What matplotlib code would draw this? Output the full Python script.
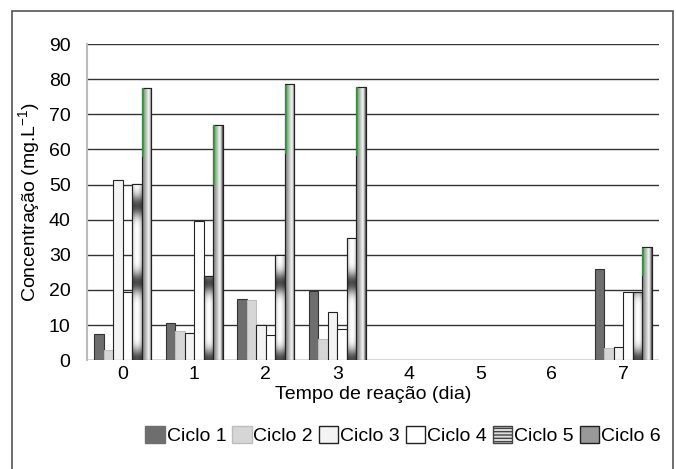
import numpy as np
import matplotlib.pyplot as plt
from matplotlib.patches import Patch, Rectangle

plt.rcParams['font.family'] = ['Liberation Sans', 'DejaVu Sans']

# data (days 4-6 have no bars)
dias = ['0', '1', '2', '3', '4', '5', '6', '7']
ciclo1 = [7.5, 10.7, 17.5, 19.6, np.nan, np.nan, np.nan, 26.1]
ciclo2 = [2.8, 8.3, 17.2, 5.9, np.nan, np.nan, np.nan, 3.5]
ciclo3 = [51.3, 7.8, 10.0, 13.6, np.nan, np.nan, np.nan, 3.7]
ciclo4 = [19.5, 39.5, 7.3, 9.0, np.nan, np.nan, np.nan, 19.3]
ciclo5 = [50.2, 24.0, 30.0, 34.9, np.nan, np.nan, np.nan, 19.3]
ciclo6 = [77.5, 67.0, 78.5, 77.8, np.nan, np.nan, np.nan, 32.2]
series = [ciclo1, ciclo2, ciclo3, ciclo4, ciclo5, ciclo6]
nomes = ['Ciclo 1', 'Ciclo 2', 'Ciclo 3', 'Ciclo 4', 'Ciclo 5', 'Ciclo 6']

fig = plt.figure(figsize=(6.76, 4.69), dpi=100)
ax = fig.add_axes([0.129, 0.232, 0.846, 0.674])

# outer frame
fig.patches.append(Rectangle((0.018, -0.05), 0.978, 1.026, transform=fig.transFigure,
                             fill=False, edgecolor='#555555', linewidth=1.2))

x = np.arange(len(dias))
w = 0.133
styles = [
    dict(color='#6e6e6e', edgecolor='#333333'),
    dict(color='#d6d6d6', edgecolor='#bdbdbd'),
    dict(color='#f3f3f3', edgecolor='#222222'),
    dict(color='#ffffff', edgecolor='#222222'),
    dict(color='#bbbbbb', edgecolor='#222222'),
    dict(color='#999999', edgecolor='#222222'),
]

ax.set_xlim(-0.5, 7.5)
ax.set_ylim(0, 90)

# gradient images used for Ciclo 5 and Ciclo 6
xs = np.linspace(0, 1, 40)
cyl = 0.55 + 0.45 * np.sin(np.pi * xs)
prof6 = np.interp(xs, [0, 0.15, 0.7, 0.85, 1.0], [0.45, 0.55, 0.97, 0.7, 0.25])
grad6 = np.outer(np.ones(60), prof6)

bars_all = []
for i, (vals, st) in enumerate(zip(series, styles)):
    off = (i - 2.5) * w
    b = ax.bar(x + off, vals, w, color=st['color'], edgecolor=st['edgecolor'],
               linewidth=0.8, zorder=3)
    bars_all.append(b)

for i in (4, 5):
    for p in bars_all[i].patches:
        h = p.get_height()
        if not np.isfinite(h) or h <= 0:
            continue
        x0 = p.get_x()
        if i == 4:
            ys = np.linspace(0, h, 80)
            band = np.cos(np.pi * ys / 22.0) ** 10
            img = np.outer(1 - 0.7 * band, 0.75 + 0.25 * np.sin(np.pi * xs))
        else:
            img = grad6
        im = ax.imshow(img, extent=(x0, x0 + w, 0, h), origin='lower', cmap='gray',
                       vmin=0, vmax=1, aspect='auto', zorder=3.5, interpolation='bilinear')
        im.set_clip_path(p)
        ax.add_patch(Rectangle((x0, 0), w, h, fill=False, edgecolor='#222222',
                               linewidth=0.8, zorder=4))
        if i == 5:
            ax.plot([x0 + w * 0.08, x0 + w * 0.08], [h * 0.75, h - 0.4], color='#22aa33',
                    linewidth=1.3, zorder=4.5)

ax.set_xlim(-0.5, 7.5)
ax.set_ylim(0, 90)
ax.set_yticks(np.arange(0, 91, 10))
ax.set_xticks(x)
ax.set_xticklabels(dias)
ax.grid(axis='y', color='#333333', linewidth=1.0, zorder=0)
ax.tick_params(axis='both', labelsize=14, length=0, pad=4)
ax.tick_params(axis='y', pad=12)
for s in ['top', 'right', 'bottom']:
    ax.spines[s].set_visible(False)
ax.spines['left'].set_color('#bbbbbb')
ax.spines['left'].set_linewidth(1.5)

ax.set_xlabel('Tempo de reação (dia)', fontsize=14, labelpad=2)
ax.set_ylabel('Concentração (mg.L$^{\\mathregular{-1}}$)', fontsize=14, labelpad=4)

handles = [
    Patch(facecolor='#6e6e6e', edgecolor='#6e6e6e'),
    Patch(facecolor='#d6d6d6', edgecolor='#bdbdbd'),
    Patch(facecolor='#f3f3f3', edgecolor='#222222'),
    Patch(facecolor='#ffffff', edgecolor='#222222'),
    Patch(facecolor='#dddddd', edgecolor='#444444', hatch='-----'),
    Patch(facecolor='#999999', edgecolor='#222222'),
]
fig.legend(handles, nomes, loc='center', bbox_to_anchor=(0.596, 0.072), ncol=6,
           frameon=False, fontsize=14, handlelength=1.0, handleheight=1.0,
           handletextpad=0.1, columnspacing=0.3, borderaxespad=0)

fig.savefig('out.png', dpi=100)
